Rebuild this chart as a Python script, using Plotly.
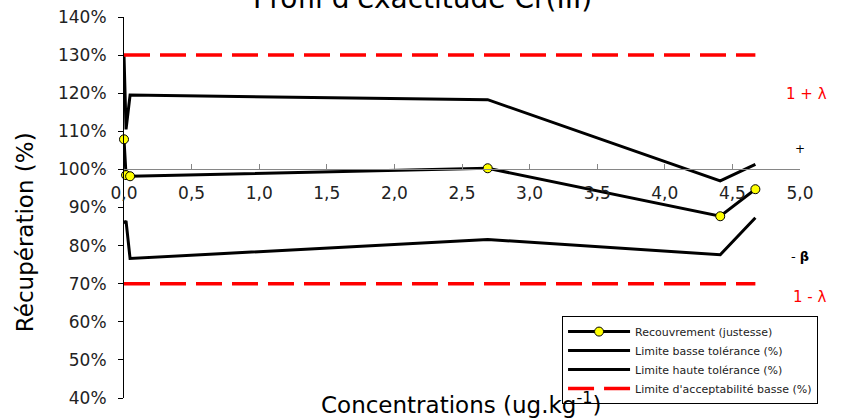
import plotly.graph_objects as go

# ---- data ----
conc = [0.0, 0.015, 0.045, 2.69, 4.41, 4.67]          # ug.kg-1
recouvrement = [107.9, 98.5, 98.2, 100.3, 87.7, 94.8]  # %
limite_basse = [85.8, 86.5, 76.6, 81.6, 77.6, 87.3]     # %
limite_haute = [130.0, 110.5, 119.5, 118.3, 97.0, 101.3]  # %
accept_haute = [130, 130]
accept_basse = [70, 70]
accept_x = [conc[0], conc[-1]]

x_ticks = [0.0, 0.5, 1.0, 1.5, 2.0, 2.5, 3.0, 3.5, 4.0, 4.5, 5.0]
y_ticks = [40, 50, 60, 70, 80, 90, 100, 110, 120, 130, 140]
y_ticklabels = ["40%", "50%", "60%", "70%", "80%", "90%", "100%",
                "110%", "120%", "130%", "140%"]

FONT = "DejaVu Sans"
RED = "#ff0000"

fig = go.Figure()

fig.add_trace(go.Scatter(
    x=conc, y=recouvrement, mode="lines+markers",
    name="Recouvrement (justesse)",
    line=dict(color="black", width=3),
    marker=dict(symbol="circle", size=9, color="#ffff00",
                line=dict(color="black", width=1)),
    cliponaxis=False,
))
fig.add_trace(go.Scatter(
    x=conc, y=limite_basse, mode="lines",
    name="Limite basse tolérance (%)",
    line=dict(color="black", width=3),
    cliponaxis=False,
))
fig.add_trace(go.Scatter(
    x=conc, y=limite_haute, mode="lines",
    name="Limite haute tolérance (%)",
    line=dict(color="black", width=3),
    cliponaxis=False,
))
fig.add_trace(go.Scatter(
    x=accept_x, y=accept_basse, mode="lines",
    name="Limite d'acceptabilité basse (%)",
    line=dict(color=RED, width=3.5, dash="26px,10px"),
    cliponaxis=False,
))
fig.add_trace(go.Scatter(
    x=accept_x, y=accept_haute, mode="lines",
    name="Limite d'acceptabilité haute (%)",
    line=dict(color=RED, width=3.5, dash="26px,10px"),
    showlegend=False,
    cliponaxis=False,
))

fig.update_layout(
    width=846, height=419,
    margin=dict(l=124, r=46, t=17, b=21, autoexpand=False),
    paper_bgcolor="white", plot_bgcolor="white",
    separators=", ",
    font=dict(family=FONT, color="#222222"),
    showlegend=True,
    legend=dict(
        x=0.648, y=0.215, xanchor="left", yanchor="top",
        bgcolor="white", bordercolor="black", borderwidth=1,
        font=dict(family=FONT, size=11, color="#222222"),
        itemwidth=62, tracegroupgap=0,
        entrywidth=222, entrywidthmode="pixels",
    ),
    xaxis=dict(
        range=[0, 5], tickvals=x_ticks, tickformat=".1f",
        anchor="free", position=0.6,
        showline=True, linecolor="#868686", linewidth=1,
        ticks="inside", ticklen=5, tickcolor="#868686",
        showgrid=False, zeroline=False,
        tickfont=dict(family=FONT, size=17, color="#222222"),
        ticklabelstandoff=8,
    ),
    yaxis=dict(
        range=[40, 140], tickvals=y_ticks, ticktext=y_ticklabels,
        showline=True, linecolor="black", linewidth=1,
        ticks="outside", ticklen=5, tickcolor="black",
        showgrid=False, zeroline=False,
        tickfont=dict(family=FONT, size=17, color="#222222"),
        ticklabelstandoff=8,
    ),
    annotations=[
        dict(text="Profil d'exactitude Cr(III)", xref="paper", yref="paper",
             x=0.441, y=1.049, xanchor="center", yanchor="middle",
             showarrow=False, font=dict(family=FONT, size=28, color="black")),
        dict(text="Récupération (%)", xref="paper", yref="paper",
             x=-0.146, y=0.436, xanchor="center", yanchor="middle",
             textangle=-90, showarrow=False,
             font=dict(family=FONT, size=23, color="black")),
        dict(text="Concentrations (ug.kg<sup>-1</sup>)", xref="paper", yref="paper",
             x=0.4985, y=-0.012, xanchor="center", yanchor="middle",
             showarrow=False, font=dict(family=FONT, size=23, color="black")),
        dict(text="1 + λ", xref="paper", yref="y", x=1.01, y=119.8,
             xanchor="center", yanchor="middle", showarrow=False,
             font=dict(family=FONT, size=15, color=RED)),
        dict(text="+", xref="paper", yref="y", x=1.0, y=105.4,
             xanchor="center", yanchor="middle", showarrow=False,
             font=dict(family=FONT, size=12, color="black")),
        dict(text="- <b>β</b>", xref="paper", yref="y", x=1.0, y=77.1,
             xanchor="center", yanchor="middle", showarrow=False,
             font=dict(family=FONT, size=13, color="black")),
        dict(text="1 - λ", xref="paper", yref="y", x=1.014, y=66.5,
             xanchor="center", yanchor="middle", showarrow=False,
             font=dict(family=FONT, size=15, color=RED)),
    ],
)

fig.write_html("out.html", config={"displayModeBar": False},
               post_script="document.body.style.margin='0';")
